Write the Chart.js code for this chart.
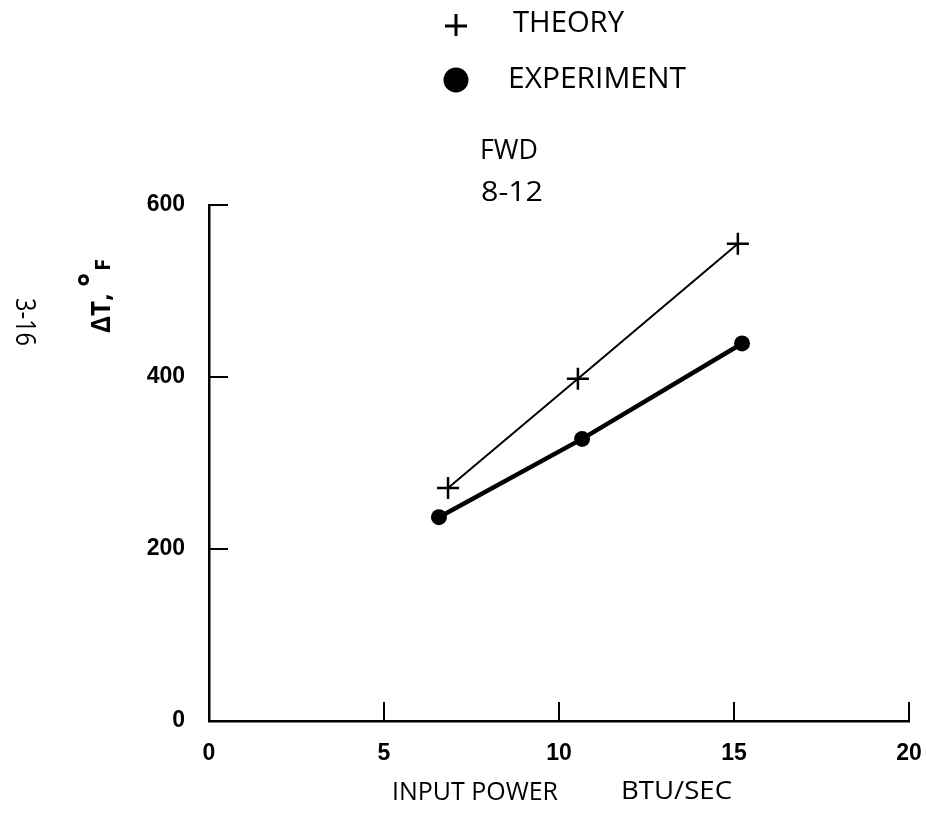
<!DOCTYPE html>
<html>
<head>
<meta charset="utf-8">
<script src="https://cdn.jsdelivr.net/npm/chart.js@4/dist/chart.umd.min.js"></script>
<style>
html,body{margin:0;padding:0;background:#fff;}
#wrap{position:relative;width:926px;height:822px;}
</style>
</head>
<body>
<div id="wrap"><canvas id="c" width="926" height="822"></canvas></div>
<script>
// ---- data ----
const theoryX = [6.83, 10.54, 15.11];
const theoryY = [271, 398, 555];
const experimentX = [6.57, 10.66, 15.23];
const experimentY = [237, 328, 439];
const seriesLabels = ['THEORY', 'EXPERIMENT'];
const xTicks = [0, 5, 10, 15, 20];
const yTicks = [0, 200, 400, 600];
const xTitleParts = ['INPUT POWER', 'BTU/SEC'];
const yTitle = ['ΔT, ', '°', 'F'];
const noteLines = ['FWD', '8-12'];
const pageLabel = '3-16';

const toPts = (xs, ys) => xs.map((x, i) => ({x: x, y: ys[i]}));

const TICK_FAMILY = '"Liberation Sans", sans-serif';

function fitText(ctx, text, x, y, width, font) {
  ctx.save();
  ctx.font = font;
  const w = ctx.measureText(text).width;
  ctx.translate(x, y);
  ctx.scale(width / w, 1);
  ctx.fillText(text, 0, 0);
  ctx.restore();
}

const decor = {
  id: 'decor',
  afterDraw(chart) {
    const ctx = chart.ctx;
    const xs = chart.scales.x, ys = chart.scales.y;
    const area = chart.chartArea;
    ctx.save();
    ctx.strokeStyle = '#000';
    ctx.fillStyle = '#000';
    ctx.lineWidth = 2;
    // inward ticks
    xTicks.forEach(v => {
      if (v === 0) return;
      const px = xs.getPixelForValue(v);
      ctx.beginPath(); ctx.moveTo(px, area.bottom); ctx.lineTo(px, area.bottom - 19); ctx.stroke();
    });
    yTicks.forEach(v => {
      if (v === 0) return;
      const py = ys.getPixelForValue(v);
      ctx.beginPath(); ctx.moveTo(area.left, py); ctx.lineTo(area.left + 19, py); ctx.stroke();
    });
    ctx.textBaseline = 'middle';
    ctx.textAlign = 'left';
    // x title
    fitText(ctx, xTitleParts[0], 392, 793, 166, '26px "Open Sans"');
    fitText(ctx, xTitleParts[1], 621, 792, 111, '26px "Open Sans"');
    // y title rotated
    ctx.save();
    ctx.translate(110, 333);
    ctx.rotate(-Math.PI / 2);
    ctx.textAlign = 'left';
    ctx.textBaseline = 'alphabetic';
    ctx.font = 'bold 26px "Open Sans"';
    let w = ctx.measureText(yTitle[0]).width;
    ctx.fillText(yTitle[0], 0, 0);
    ctx.font = 'bold 32px "Open Sans"';
    ctx.fillText(yTitle[1], w, -8);
    let w2 = ctx.measureText(yTitle[1]).width;
    ctx.font = 'bold 22px "Open Sans"';
    ctx.fillText(yTitle[2], w + w2 + 2, 0);
    ctx.restore();
    // page label rotated clockwise
    ctx.save();
    ctx.translate(24, 322);
    ctx.rotate(Math.PI / 2);
    ctx.textBaseline = 'middle';
    fitText(ctx, pageLabel, -24, 0, 48, '27px "Open Sans"');
    ctx.restore();
    // legend
    fitText(ctx, seriesLabels[0], 513, 23, 111, '30px "Open Sans"');
    fitText(ctx, seriesLabels[1], 508, 79, 178, '30px "Open Sans"');
    ctx.lineWidth = 3;
    ctx.beginPath();
    ctx.moveTo(445, 26); ctx.lineTo(467, 26);
    ctx.moveTo(456, 14); ctx.lineTo(456, 36);
    ctx.stroke();
    ctx.beginPath();
    ctx.arc(456, 80, 12.5, 0, Math.PI * 2);
    ctx.fill();
    // notes
    fitText(ctx, noteLines[0], 480, 151, 58, '27px "Open Sans"');
    fitText(ctx, noteLines[1], 481, 193, 62, '27px "Open Sans"');
    ctx.restore();
  }
};

new Chart(document.getElementById('c'), {
  type: 'scatter',
  data: {
    datasets: [
      {
        label: seriesLabels[0],
        data: toPts(theoryX, theoryY),
        showLine: true,
        borderColor: '#000',
        borderWidth: 2,
        pointStyle: 'cross',
        pointRadius: 11,
        pointBorderWidth: 2.5,
        pointBorderColor: '#000',
        pointBackgroundColor: '#000'
      },
      {
        label: seriesLabels[1],
        data: toPts(experimentX, experimentY),
        showLine: true,
        borderColor: '#000',
        borderWidth: 4.5,
        pointStyle: 'circle',
        pointRadius: 8,
        pointBorderWidth: 0,
        pointBackgroundColor: '#000'
      }
    ]
  },
  options: {
    responsive: false,
    animation: false,
    devicePixelRatio: 1,
    layout: { padding: { top: 205, right: 17, left: 0, bottom: 0 } },
    plugins: { legend: { display: false }, tooltip: { enabled: false } },
    scales: {
      x: {
        type: 'linear',
        min: 0, max: 20,
        afterFit(s) { s.height = 101; s.paddingRight = 0; s.paddingLeft = 0; },
        afterBuildTicks(s) { s.ticks = xTicks.map(v => ({value: v})); },
        grid: { display: true, drawOnChartArea: false, drawTicks: false },
        border: { display: true, color: '#000', width: 2.5 },
        ticks: { color: '#000', font: { family: TICK_FAMILY, size: 23, weight: 'bold' }, padding: 19, maxRotation: 0 }
      },
      y: {
        type: 'linear',
        min: 0, max: 600,
        afterFit(s) { s.width = 209; s.paddingTop = 0; s.paddingBottom = 0; },
        afterBuildTicks(s) { s.ticks = yTicks.map(v => ({value: v})); },
        grid: { display: true, drawOnChartArea: false, drawTicks: false },
        border: { display: true, color: '#000', width: 2.5 },
        ticks: { color: '#000', font: { family: TICK_FAMILY, size: 23, weight: 'bold' }, padding: 24 }
      }
    }
  },
  plugins: [decor]
});
</script>
</body>
</html>
